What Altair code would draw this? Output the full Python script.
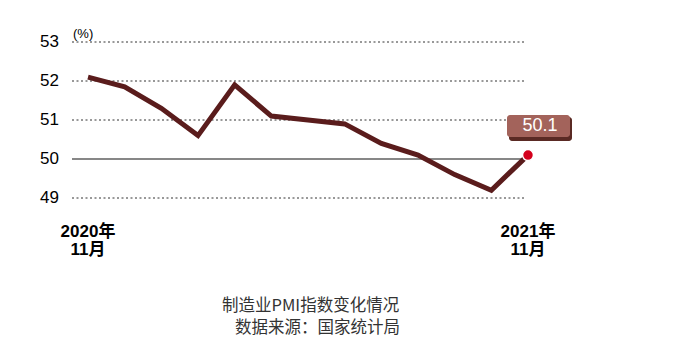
import altair as alt
import pandas as pd

# ---- data ----
months = ["2020-11", "2020-12", "2021-01", "2021-02", "2021-03", "2021-04", "2021-05",
          "2021-06", "2021-07", "2021-08", "2021-09", "2021-10", "2021-11"]
pmi = [52.1, 51.85, 51.3, 50.6, 51.9, 51.1, 51.0, 50.9, 50.4, 50.1, 49.6, 49.2, 50.1]
y_ticks = [49, 50, 51, 52, 53]
x_year_labels = ["2020年", "2021年"]
x_month_labels = ["11月", "11月"]
x_label_idx = [0, 12]
caption_1 = "制造业PMI指数变化情况"
caption_2 = "数据来源：国家统计局"

df = pd.DataFrame({"idx": list(range(len(months))), "month": months, "pmi": pmi})
last = df.tail(1).assign(label=lambda d: d["pmi"].map(lambda v: f"{v:.1f}"))
ticks = pd.DataFrame({"v": y_ticks, "label": [str(t) for t in y_ticks],
                      "solid": [t == 50 for t in y_ticks]})
xl = pd.DataFrame({"idx": x_label_idx, "year": x_year_labels, "month": x_month_labels,
                   "dx": [-3, 3]})

xs = alt.Scale(domain=[0, 12], range=[88, 528])
ys = alt.Scale(domain=[49, 53], range=[198, 42])
LAT = "Liberation Sans, Arial, Noto Sans CJK SC"
CJK = "Noto Sans CJK SC"

X = lambda: alt.X("idx:Q", scale=xs, axis=None)
Y = lambda f: alt.Y(f, scale=ys, axis=None)

grid_dot = alt.Chart(ticks).transform_filter("!datum.solid").mark_rule(
    color="#333", strokeWidth=1, strokeDash=[2, 2.5]
).encode(y=Y("v:Q"), x=alt.value(72), x2=alt.value(525))

grid_solid = alt.Chart(ticks).transform_filter("datum.solid").mark_rule(
    color="#111", strokeWidth=1.2
).encode(y=Y("v:Q"), x=alt.value(72), x2=alt.value(525))

ylabels = alt.Chart(ticks).mark_text(
    align="right", baseline="middle", fontSize=17, font=LAT, color="#000"
).encode(y=Y("v:Q"), x=alt.value(59), text="label:N")

unit = alt.Chart(ticks).transform_filter("datum.v == 53").mark_text(
    align="left", baseline="middle", fontSize=13, font=LAT, color="#000", dy=-8
).encode(y=Y("v:Q"), x=alt.value(73), text=alt.value("(%)"))

line = alt.Chart(df).mark_line(
    color="#5a1c1c", strokeWidth=5, strokeJoin="miter"
).encode(x=X(), y=Y("pmi:Q"))

shadow = alt.Chart(last).mark_rect(
    color="#5a2a24", cornerRadius=3, xOffset=-19, x2Offset=44, yOffset=-38, y2Offset=-14
).encode(x=X(), x2=alt.X2("idx:Q"), y=Y("pmi:Q"), y2=alt.Y2("pmi:Q"))

box = alt.Chart(last).mark_rect(
    color="#a3635b", cornerRadius=3, xOffset=-21, x2Offset=42, yOffset=-40, y2Offset=-18
).encode(x=X(), x2=alt.X2("idx:Q"), y=Y("pmi:Q"), y2=alt.Y2("pmi:Q"))

box_text = alt.Chart(last).mark_text(
    color="white", fontSize=18, font=LAT, align="center", baseline="middle", dx=12, dy=-29
).encode(x=X(), y=Y("pmi:Q"), text="label:N")

dot = alt.Chart(last).mark_point(
    filled=True, shape="circle", size=120, fill="#d4001c", stroke="white",
    strokeWidth=1.5, opacity=1
).encode(x=X(), y=Y("pmi:Q"))

xlab1 = alt.Chart(xl).mark_text(
    fontSize=17, fontWeight="bold", font=LAT, color="#000", align="center", baseline="alphabetic"
).encode(x=X(), y=alt.value(237), text="year:N", xOffset=alt.XOffset("dx:Q", scale=None))

xlab2 = alt.Chart(xl).mark_text(
    fontSize=17, fontWeight="bold", font=LAT, color="#000", align="center", baseline="alphabetic"
).encode(x=X(), y=alt.value(255), text="month:N", xOffset=alt.XOffset("dx:Q", scale=None))

cap1 = alt.Chart(ticks.head(1)).mark_text(
    fontSize=16.5, font=CJK, color="#333", align="left", baseline="middle"
).encode(x=alt.value(222), y=alt.value(306), text=alt.value(caption_1))

cap2 = alt.Chart(ticks.head(1)).mark_text(
    fontSize=16.5, font=CJK, color="#333", align="left", baseline="middle"
).encode(x=alt.value(235), y=alt.value(328), text=alt.value(caption_2))

chart = alt.layer(
    grid_dot, grid_solid, ylabels, unit, line, shadow, box, box_text, dot,
    xlab1, xlab2, cap1, cap2
).properties(
    width=685, height=354, autosize=alt.AutoSizeParams(type="none"), padding=0,
    background="white"
).configure_view(stroke=None)

chart.save("out.html", embed_options={"renderer": "svg", "actions": False})
